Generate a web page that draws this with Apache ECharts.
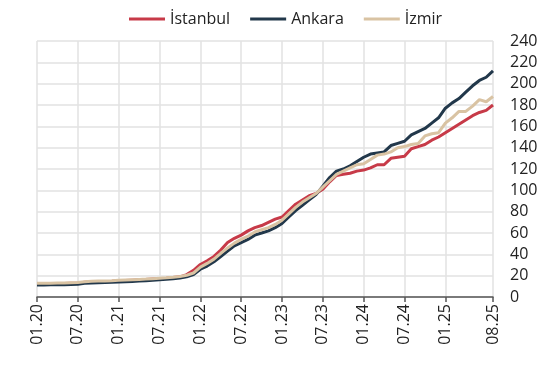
<!DOCTYPE html>
<html>
<head>
<meta charset="utf-8">
<script src="https://cdn.jsdelivr.net/npm/echarts@6/dist/echarts.min.js"></script>
<style>
html,body{margin:0;padding:0;background:#fff;}
#c{width:559px;height:368px;}
</style>
</head>
<body>
<div id="c"></div>
<script>
// Monthly categories 01.20 .. 08.25
const categories = [];
for (let y = 20; y <= 25; y++) {
  for (let m = 1; m <= 12; m++) {
    if (y === 25 && m > 8) break;
    categories.push((m < 10 ? '0' + m : '' + m) + '.' + y);
  }
}
const istanbul = [
  12.2, 12.3, 12.4, 12.5, 12.6, 12.8, 13.0, 13.8, 14.2, 14.4, 14.6, 14.8,
  15.2, 15.5, 15.8, 16.1, 16.4, 16.8, 17.2, 17.6, 18.2, 18.9, 21.0, 25.0,
  30.5, 34, 38, 44, 51, 55, 58, 62, 65, 67, 70, 73,
  75, 81, 87, 91, 95, 97, 101, 108, 114, 115, 116, 118,
  119, 121, 124, 124, 130, 131, 132, 139, 141, 143, 147, 150,
  154, 158, 162, 166, 170, 173, 175, 180
];
const ankara = [
  11.2, 11.3, 11.4, 11.5, 11.6, 11.8, 12.0, 12.8, 13.2, 13.4, 13.6, 13.8,
  14.0, 14.3, 14.6, 15.0, 15.3, 15.7, 16.1, 16.6, 17.2, 17.9, 19.0, 21.0,
  26, 29, 33, 38, 43, 48, 51, 54, 58, 60, 62, 65,
  69, 75, 81, 86, 91, 96, 104, 112, 118, 120, 123, 127,
  131, 134, 135, 136, 142, 144, 146, 152, 155, 158, 163, 168,
  177, 182, 186, 192, 198, 203, 206, 212
];
const izmir = [
  12.8, 12.9, 13.0, 13.1, 13.2, 13.4, 13.6, 14.3, 14.7, 14.9, 15.1, 15.3,
  15.6, 15.9, 16.2, 16.5, 16.8, 17.2, 17.6, 18.0, 18.6, 19.3, 20.4, 22.5,
  28, 31.5, 35.5, 41, 46, 50.5, 54, 57, 61, 63, 65, 68,
  72, 78, 84, 89, 93, 97, 103, 109, 115, 118, 121, 124,
  125, 129, 133, 134, 136, 140, 141, 143, 144, 151, 153, 154,
  163, 168, 174, 174, 179, 185, 183, 188
];
const seriesNames = ['İstanbul', 'Ankara', 'İzmir'];
const yTicks = {min: 0, max: 240, step: 20};

const last = categories.length - 1;
const showIdx = (i) => (i % 6 === 0 && i < last - 1) || i === last;
const font = '"Open Sans", "Noto Sans", sans-serif';

const chart = echarts.init(document.getElementById('c'), null, {renderer: 'canvas'});
chart.setOption({
  animation: false,
  backgroundColor: '#fff',
  textStyle: {fontFamily: font},
  legend: {
    top: 6,
    left: 124,
    itemWidth: 36,
    itemHeight: 3,
    itemGap: 20,
    icon: 'rect',
    textStyle: {fontSize: 16, color: '#222', fontFamily: font},
    data: seriesNames
  },
  grid: {left: 37, right: 66, top: 41, bottom: 71, containLabel: false},
  xAxis: {
    type: 'category',
    data: categories,
    boundaryGap: false,
    axisLine: {lineStyle: {color: '#555', width: 1.5}},
    axisTick: {show: true, interval: (i) => showIdx(i), length: 5, lineStyle: {color: '#555', width: 1.5}},
    axisLabel: {interval: (i) => showIdx(i), rotate: 90, fontSize: 16, color: '#222', margin: 7, fontFamily: font},
    splitLine: {show: true, interval: (i) => showIdx(i), lineStyle: {color: '#e2e2e2', width: 1.5}}
  },
  yAxis: {
    type: 'value',
    position: 'right',
    min: yTicks.min, max: yTicks.max, interval: yTicks.step,
    axisLine: {show: false},
    axisTick: {show: false},
    axisLabel: {fontSize: 16, color: '#222', margin: 17, fontFamily: font},
    splitLine: {show: true, lineStyle: {color: '#e2e2e2', width: 1.5}}
  },
  series: [
    {name: seriesNames[0], type: 'line', data: istanbul, symbol: 'none', lineStyle: {width: 3, color: '#C73A48'}, itemStyle: {color: '#C73A48'}},
    {name: seriesNames[1], type: 'line', data: ankara, symbol: 'none', lineStyle: {width: 3, color: '#22384B'}, itemStyle: {color: '#22384B'}},
    {name: seriesNames[2], type: 'line', data: izmir, symbol: 'none', lineStyle: {width: 3, color: '#D9C3A3'}, itemStyle: {color: '#D9C3A3'}}
  ]
});
</script>
</body>
</html>
